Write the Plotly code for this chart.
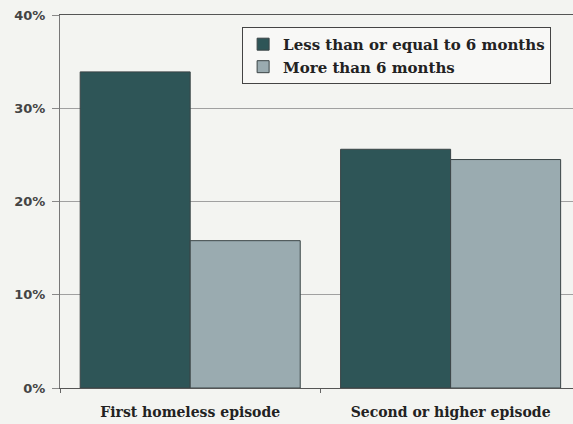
import plotly.graph_objects as go

# Share of homeless episodes by duration, split by episode order
categories = ["First homeless episode", "Second or higher episode"]
series_names = ["Less than or equal to 6 months", "More than 6 months"]
short_stay = [33.9, 25.6]
long_stay = [15.8, 24.5]
y_ticks = [0, 10, 20, 30, 40]
y_tick_labels = ["0%", "10%", "20%", "30%", "40%"]

bar_colors = ["#2e5557", "#9aabb0"]
paper_bg = "#f3f4f1"
serif = "DejaVu Serif"

fig = go.Figure()
for name, vals, col in zip(series_names, [short_stay, long_stay], bar_colors):
    fig.add_trace(go.Bar(
        x=categories, y=vals, name=name,
        marker=dict(color=col, line=dict(color="#3a4446", width=1)),
    ))

fig.update_layout(
    width=573, height=424,
    margin=dict(l=60, r=0, t=15, b=36),
    paper_bgcolor=paper_bg, plot_bgcolor=paper_bg,
    barmode="group", bargap=0.155, bargroupgap=0,
    showlegend=True,
    legend=dict(
        x=0.355, y=0.968, xanchor="left", yanchor="top",
        bgcolor="#f8f8f6", bordercolor="#444", borderwidth=1,
        font=dict(family=serif, size=15, color="#222", weight="bold"),
        itemwidth=30, tracegroupgap=0,
    ),
    xaxis=dict(
        range=[-0.5, 1.47], tickson="boundaries",
        ticks="outside", ticklen=4, tickcolor="#666",
        showline=True, linecolor="#555", linewidth=1, mirror=True,
        showgrid=False, ticklabelstandoff=11,
        tickfont=dict(family=serif, size=14, color="#222", weight="bold"),
    ),
    yaxis=dict(
        range=[0, 40], tickvals=y_ticks, ticktext=y_tick_labels,
        ticks="outside", ticklen=7, tickcolor="#888",
        showline=True, linecolor="#777", linewidth=1,
        showgrid=True, gridcolor="#a0a0a0", gridwidth=1,
        zeroline=False, ticklabelstandoff=4,
        tickfont=dict(family="DejaVu Sans", size=13, color="#444", weight="bold"),
    ),
)

fig.write_html("out.html")
